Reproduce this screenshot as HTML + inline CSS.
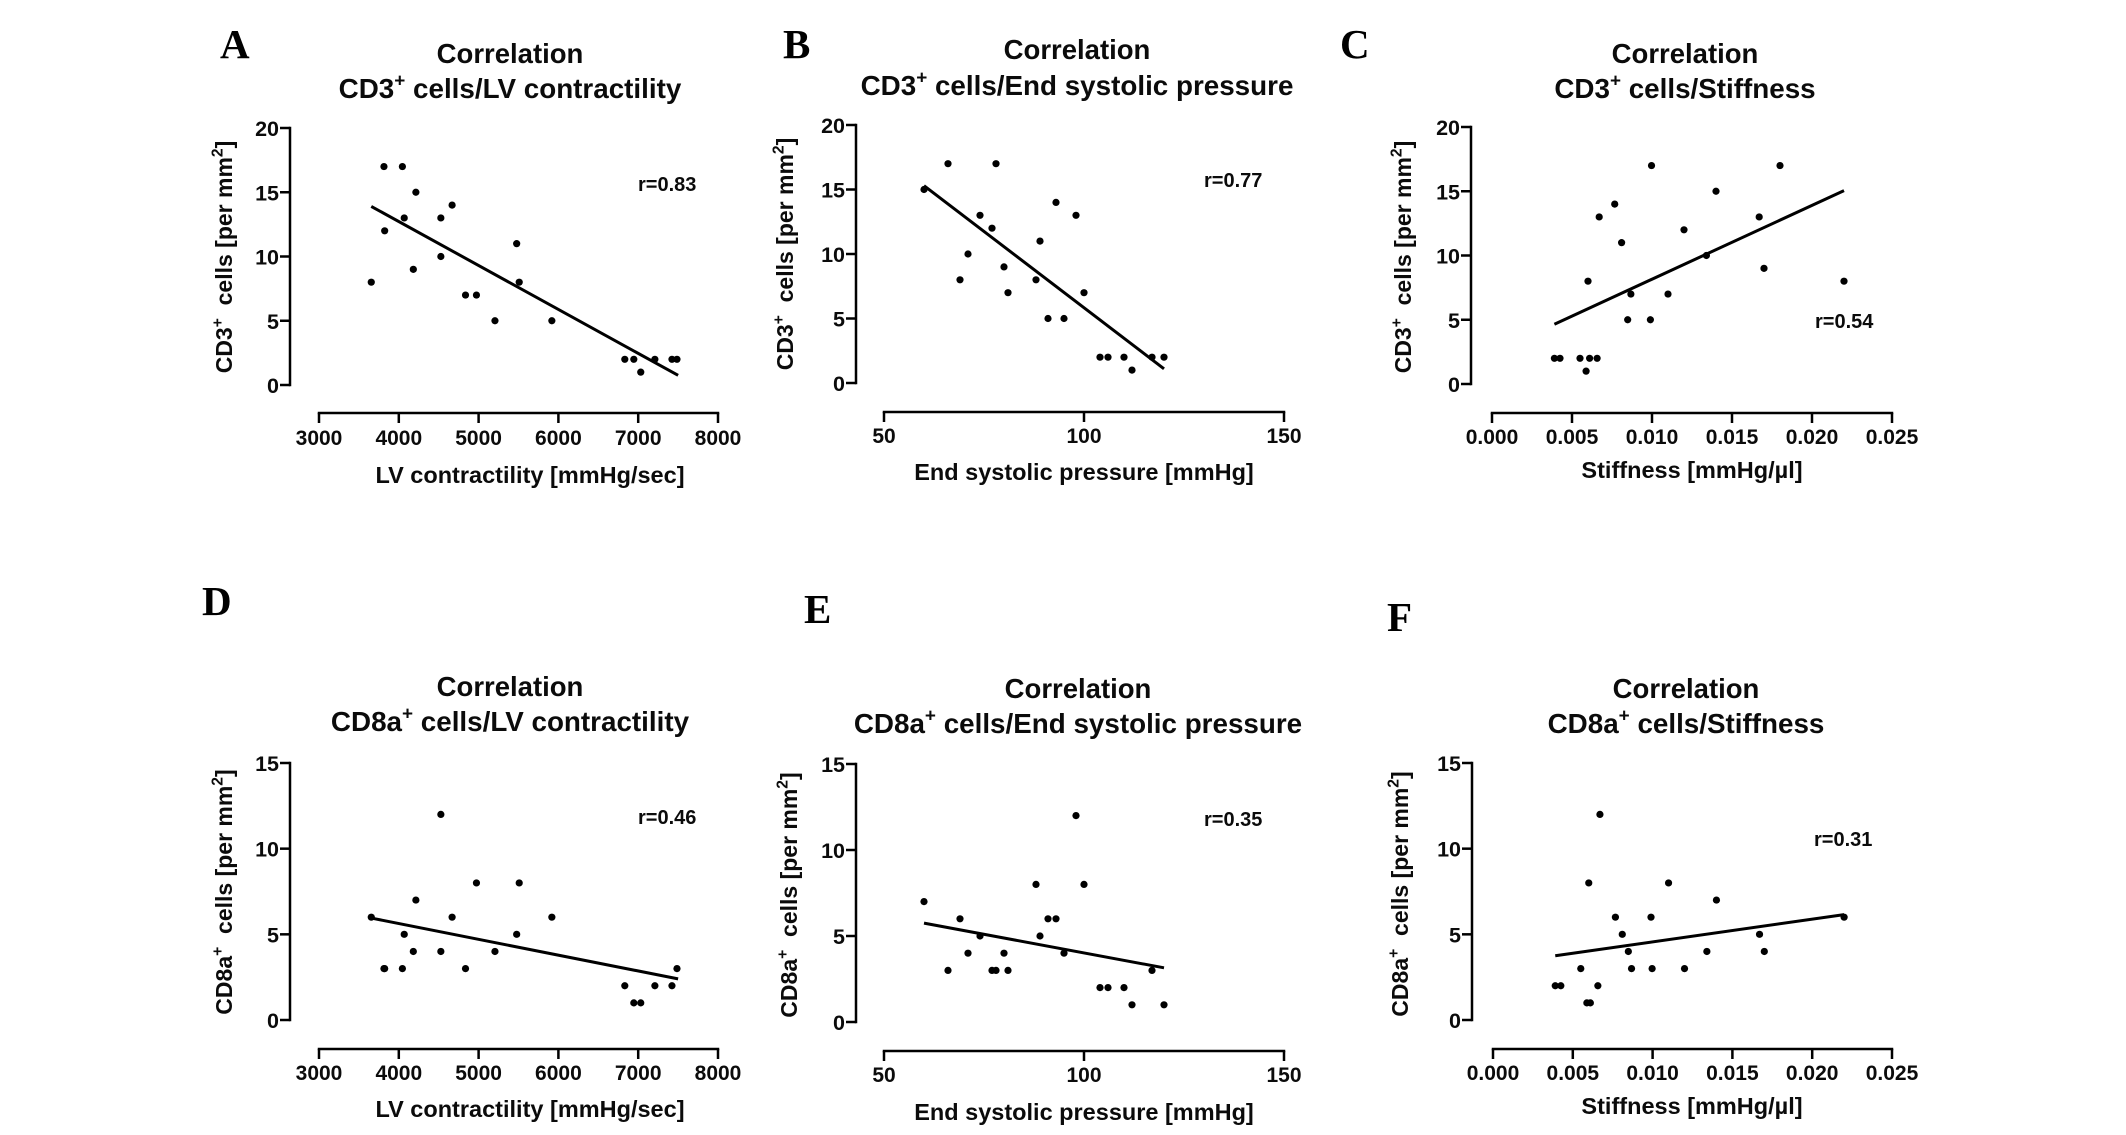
<!DOCTYPE html>
<html lang="en">
<head>
<meta charset="utf-8">
<title>Correlation panels</title>
<style>
html,body{margin:0;padding:0;background:#fff;width:2126px;height:1135px;overflow:hidden}
svg{display:block}
text{font-family:"Liberation Sans",Arial,sans-serif;font-weight:700;fill:#0b0b0b;white-space:pre}
.letter{font-family:"Liberation Serif","Times New Roman",serif;font-size:41px;fill:#000}
</style>
</head>
<body>
<svg id="figure" xmlns="http://www.w3.org/2000/svg" width="2126" height="1135" viewBox="0 0 2126 1135"></svg>
<script>
// ---- data ----
const contractilityX = [3655,3814,3823,4045,4068,4182,4214,4527,4527,4668,4836,4973,5205,5477,5509,5918,6832,6945,7032,7209,7423,7486];
const cd3VsContractility = [8,17,12,17,13,9,15,13,10,14,7,7,5,11,8,5,2,2,1,2,2,2];
const cd8VsContractility = [6,3,3,3,5,4,7,12,4,6,3,8,4,5,8,6,2,1,1,2,2,3];

const pressureX = [60,66,69,71,74,77,78,80,81,88,89,91,93,95,98,100,104,106,110,112,117,120];
const cd3VsPressure = [15,17,8,10,13,12,17,9,7,8,11,5,14,5,13,7,2,2,2,1,2,2];
const cd8VsPressure = [7,3,6,4,5,3,3,4,3,8,5,6,6,4,12,8,2,2,2,1,3,1];

const stiffnessX = [0.0039,0.00425,0.0055,0.00588,0.006,0.0061,0.00657,0.0067,0.00767,0.0081,0.00848,0.00868,0.0099,0.00997,0.011,0.012,0.0134,0.014,0.0167,0.017,0.018,0.022];
const cd3VsStiffness = [2,2,2,1,8,2,2,13,14,11,5,7,5,17,7,12,10,15,13,9,17,8];
const stiffnessXF = [0.0039,0.00425,0.0055,0.00588,0.006,0.0061,0.00657,0.0067,0.00767,0.0081,0.00848,0.00868,0.0099,0.00997,0.011,0.012,0.0134,0.014,0.0167,0.017,0.022];
const cd8VsStiffness = [2,2,3,1,8,1,2,12,6,5,4,3,6,3,8,3,4,7,5,4,6];

const trendContractilityX = [3655,7500];
const trendCd3ContractilityY = [13.9,0.75];
const trendCd8ContractilityY = [5.95,2.4];
const trendPressureX = [60,120];
const trendCd3PressureY = [15.3,1.1];
const trendCd8PressureY = [5.75,3.15];
const trendStiffnessX = [0.0039,0.022];
const trendCd3StiffnessY = [4.65,15.05];
const trendCd8StiffnessY = [3.75,6.15];

const contractilityTicks = [3000,4000,5000,6000,7000,8000];
const pressureTicks = [50,100,150];
const stiffnessTicks = [0,0.005,0.01,0.015,0.02,0.025];
const stiffnessTickLabels = ["0.000","0.005","0.010","0.015","0.020","0.025"];
const cd3Ticks = [0,5,10,15,20];
const cd8Ticks = [0,5,10,15];

// ---- panel layout ----
const panels = [
 {id:"a",letter:"A",lx:220,ly:58,title:"CD3^+^ cells/LV contractility",tx:510,t1:63,t2:98,
  xs:contractilityX,ys:cd3VsContractility,trendX:trendContractilityX,trendY:trendCd3ContractilityY,
  xTicks:contractilityTicks,xLabels:contractilityTicks.map(String),yTicks:cd3Ticks,
  ax:290,yTop:128,yBot:385,xAxis:413,xL:319,xR:718,tickBase:445,
  xLabel:"LV contractility [mmHg/sec]",xlx:530,xly:483,yLabel:"CD3^+^  cells [per mm^2^]",ylx:232,yly:257,
  r:"r=0.83",rx:638,ry:191},
 {id:"b",letter:"B",lx:783,ly:58,title:"CD3^+^ cells/End systolic pressure",tx:1077,t1:59,t2:95,
  xs:pressureX,ys:cd3VsPressure,trendX:trendPressureX,trendY:trendCd3PressureY,
  xTicks:pressureTicks,xLabels:pressureTicks.map(String),yTicks:cd3Ticks,
  ax:856,yTop:125,yBot:383,xAxis:412,xL:884,xR:1284,tickBase:443,
  xLabel:"End systolic pressure [mmHg]",xlx:1084,xly:480,yLabel:"CD3^+^  cells [per mm^2^]",ylx:793,yly:254,
  r:"r=0.77",rx:1204,ry:187},
 {id:"c",letter:"C",lx:1340,ly:58,title:"CD3^+^ cells/Stiffness",tx:1685,t1:63,t2:98,
  xs:stiffnessX,ys:cd3VsStiffness,trendX:trendStiffnessX,trendY:trendCd3StiffnessY,
  xTicks:stiffnessTicks,xLabels:stiffnessTickLabels,yTicks:cd3Ticks,
  ax:1471,yTop:127,yBot:384,xAxis:413,xL:1492,xR:1892,tickBase:444,
  xLabel:"Stiffness [mmHg/\u00b5l]",xlx:1692,xly:478,yLabel:"CD3^+^  cells [per mm^2^]",ylx:1411,yly:257,
  r:"r=0.54",rx:1815,ry:328},
 {id:"d",letter:"D",lx:202,ly:615,title:"CD8a^+^ cells/LV contractility",tx:510,t1:696,t2:731,
  xs:contractilityX,ys:cd8VsContractility,trendX:trendContractilityX,trendY:trendCd8ContractilityY,
  xTicks:contractilityTicks,xLabels:contractilityTicks.map(String),yTicks:cd8Ticks,
  ax:290,yTop:763,yBot:1020,xAxis:1049,xL:319,xR:718,tickBase:1080,
  xLabel:"LV contractility [mmHg/sec]",xlx:530,xly:1117,yLabel:"CD8a^+^  cells [per mm^2^]",ylx:232,yly:892,
  r:"r=0.46",rx:638,ry:824},
 {id:"e",letter:"E",lx:804,ly:623,title:"CD8a^+^ cells/End systolic pressure",tx:1078,t1:698,t2:733,
  xs:pressureX,ys:cd8VsPressure,trendX:trendPressureX,trendY:trendCd8PressureY,
  xTicks:pressureTicks,xLabels:pressureTicks.map(String),yTicks:cd8Ticks,
  ax:856,yTop:764,yBot:1022,xAxis:1051,xL:884,xR:1284,tickBase:1082,
  xLabel:"End systolic pressure [mmHg]",xlx:1084,xly:1120,yLabel:"CD8a^+^  cells [per mm^2^]",ylx:797,yly:895,
  r:"r=0.35",rx:1204,ry:826},
 {id:"f",letter:"F",lx:1387,ly:631,title:"CD8a^+^ cells/Stiffness",tx:1686,t1:698,t2:733,
  xs:stiffnessXF,ys:cd8VsStiffness,trendX:trendStiffnessX,trendY:trendCd8StiffnessY,
  xTicks:stiffnessTicks,xLabels:stiffnessTickLabels,yTicks:cd8Ticks,
  ax:1472,yTop:763,yBot:1020,xAxis:1049,xL:1493,xR:1892,tickBase:1080,
  xLabel:"Stiffness [mmHg/\u00b5l]",xlx:1692,xly:1114,yLabel:"CD8a^+^  cells [per mm^2^]",ylx:1408,yly:894,
  r:"r=0.31",rx:1814,ry:846}
];

const NS = "http://www.w3.org/2000/svg";
const svg = document.getElementById("figure");

function make(parent, tag, attrs){
  const el = document.createElementNS(NS, tag);
  for (const k in attrs) el.setAttribute(k, attrs[k]);
  parent.appendChild(el);
  return el;
}
// "^...^" marks a superscript run
function fillRich(textEl, str, size){
  const parts = str.split("^");
  const lift = size * 0.42;
  parts.forEach(function(part, i){
    if (!part) return;
    const span = make(textEl, "tspan", {});
    if (i % 2 === 1){
      span.setAttribute("font-size", size * 0.68);
      span.setAttribute("dy", -lift);
    } else if (i > 0){
      span.setAttribute("dy", lift);
    }
    span.textContent = part;
  });
}

panels.forEach(function(p){
  const xMin = p.xTicks[0], xMax = p.xTicks[p.xTicks.length - 1];
  const yMin = p.yTicks[0], yMax = p.yTicks[p.yTicks.length - 1];
  const sx = function(v){ return p.xL + (v - xMin) / (xMax - xMin) * (p.xR - p.xL); };
  const sy = function(v){ return p.yBot - (v - yMin) / (yMax - yMin) * (p.yBot - p.yTop); };

  const g = make(svg, "g", {});
  
  

  const letter = make(g, "text", {x:p.lx, y:p.ly, "class":"letter"});
  
  
  letter.textContent = p.letter;

  const title1 = make(g, "text", {x:p.tx, y:p.t1, "text-anchor":"middle", "font-size":27.5});
  
  
  title1.textContent = "Correlation";

  const title2 = make(g, "text", {x:p.tx, y:p.t2, "text-anchor":"middle", "font-size":27.8});
  
  
  fillRich(title2, p.title, 27.8);

  // y axis
  const yAxis = make(g, "line", {x1:p.ax, x2:p.ax, y1:sy(yMax) - 1.25, y2:sy(yMin) + 1.25, stroke:"#000", "stroke-width":2.5});
  
  
  p.yTicks.forEach(function(t){
    const tick = make(g, "line", {x1:p.ax - 10, x2:p.ax, y1:sy(t), y2:sy(t), stroke:"#000", "stroke-width":2.5});
    
    
    const lab = make(g, "text", {x:p.ax - 11, y:sy(t) + 8, "text-anchor":"end", "font-size":21.5});
    
    
    lab.textContent = String(t);
  });

  // x axis
  const xAxis = make(g, "line", {x1:sx(xMin) - 1.25, x2:sx(xMax) + 1.25, y1:p.xAxis, y2:p.xAxis, stroke:"#000", "stroke-width":2.5});
  
  
  p.xTicks.forEach(function(t, i){
    const tick = make(g, "line", {x1:sx(t), x2:sx(t), y1:p.xAxis, y2:p.xAxis + 10, stroke:"#000", "stroke-width":2.5});
    
    
    const lab = make(g, "text", {x:sx(t), y:p.tickBase, "text-anchor":"middle", "font-size":21});
    
    
    lab.textContent = p.xLabels[i];
  });

  const xTitle = make(g, "text", {x:p.xlx, y:p.xly, "text-anchor":"middle", "font-size":23.5});
  
  
  xTitle.textContent = p.xLabel;

  const yTitle = make(g, "text", {x:0, y:0, "text-anchor":"middle", "font-size":23, transform:"translate(" + p.ylx + "," + p.yly + ") rotate(-90)"});
  
  
  fillRich(yTitle, p.yLabel, 23);

  // points
  p.xs.forEach(function(v, i){
    const dot = make(g, "circle", {cx:sx(v), cy:sy(p.ys[i]), r:3.6, fill:"#000"});
    
    
  });

  // trend line
  const trend = make(g, "line", {x1:sx(p.trendX[0]), y1:sy(p.trendY[0]), x2:sx(p.trendX[1]), y2:sy(p.trendY[1]), stroke:"#000", "stroke-width":3});
  
  

  const rLabel = make(g, "text", {x:p.rx, y:p.ry, "font-size":20});
  
  
  rLabel.textContent = p.r;
});
</script>
</body>
</html>
